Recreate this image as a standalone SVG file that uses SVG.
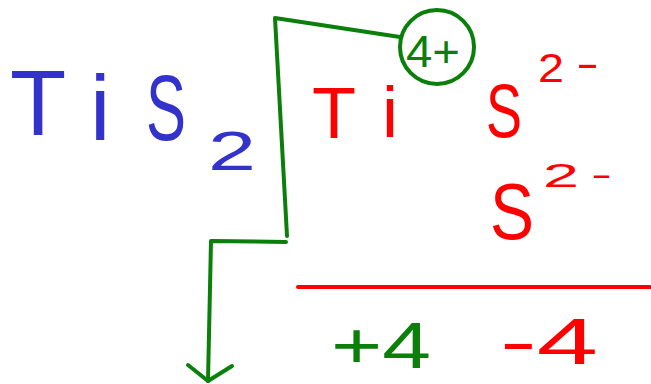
<svg xmlns="http://www.w3.org/2000/svg" width="651" height="384" viewBox="0 0 651 384">
<style>
.blue{fill:#3333cc;font-family:"Liberation Sans",Arial,sans-serif}
.red{fill:#ff0000;font-family:"Liberation Sans",Arial,sans-serif}
.green{fill:#0a800a;font-family:"Liberation Sans",Arial,sans-serif}
.gl{fill:none;stroke:#0a800a;stroke-width:4;stroke-linecap:round;stroke-linejoin:round}
.rl{fill:none;stroke:#ff0000;stroke-width:4;stroke-linecap:round}
</style>
<rect width="651" height="384" fill="#ffffff"/>
<g id="formula">
<text class="blue" font-size="92"><tspan x="10" y="135">T</tspan><tspan x="90" y="140">i</tspan><tspan x="146" y="140" textLength="40" lengthAdjust="spacingAndGlyphs">S</tspan><tspan x="208" y="170" font-size="56" textLength="48" lengthAdjust="spacingAndGlyphs">2</tspan></text>
</g>
<g id="connectors">
<path class="gl" d="M287,236 L275,18 L400,37"/>
<path class="gl" d="M286,242 L211,241 L208,381"/>
<path class="gl" d="M188,365 L208,381 L232,366"/>
<line class="rl" x1="298" y1="287" x2="650" y2="287"/>
</g>
<g id="charge-circle">
<circle cx="437" cy="47" r="37" fill="none" stroke="#0a800a" stroke-width="4"/>
<text class="green" font-size="44" x="406" y="67" textLength="54" lengthAdjust="spacingAndGlyphs">4+</text>
</g>
<g id="ti-ion">
<text class="red" font-size="72"><tspan x="312" y="138">T</tspan><tspan x="382" y="137">i</tspan></text>
</g>
<g id="s-ion-1">
<text class="red" x="486" y="137" font-size="76" textLength="36" lengthAdjust="spacingAndGlyphs">S</text>
<text class="red" font-size="40"><tspan x="538" y="82" textLength="26" lengthAdjust="spacingAndGlyphs">2</tspan><tspan x="576" y="77" textLength="23" lengthAdjust="spacingAndGlyphs">-</tspan></text>
</g>
<g id="s-ion-2">
<text class="red" x="490" y="239" font-size="80" textLength="44" lengthAdjust="spacingAndGlyphs">S</text>
<text class="red" font-size="34"><tspan x="543" y="187" textLength="36" lengthAdjust="spacingAndGlyphs">2</tspan><tspan x="591" y="186" textLength="21" lengthAdjust="spacingAndGlyphs">-</tspan></text>
</g>
<g id="sum-plus">
<text class="green" font-size="64" x="331" y="368" textLength="100" lengthAdjust="spacingAndGlyphs">+4</text>
</g>
<g id="sum-minus">
<text class="red" font-size="64" x="500" y="364" textLength="98" lengthAdjust="spacingAndGlyphs">-4</text>
</g>
</svg>
